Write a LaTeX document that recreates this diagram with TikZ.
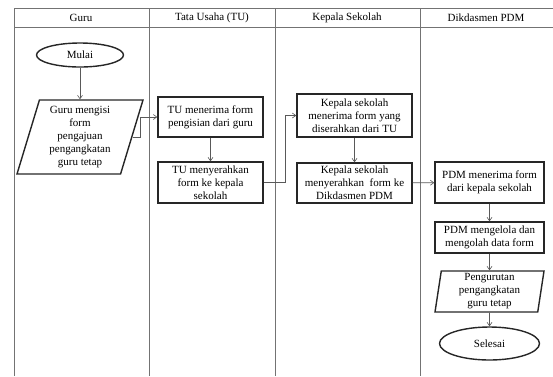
\documentclass[tikz,border=0pt]{standalone}
\usepackage{fontspec}
\setmainfont{Liberation Serif}
\usetikzlibrary{shapes.geometric,arrows.meta}
\begin{document}
\begin{tikzpicture}[x=1pt,y=-1pt,
        font=\fontsize{11}{13}\selectfont,
        lane/.style={draw=black!55, line width=0.8pt},
        proc/.style={draw=black!85, line width=1.4pt, align=center, inner sep=1pt},
        term/.style={ellipse, draw=black!85, line width=1.4pt, inner sep=0pt, align=center},
        data/.style={trapezium, trapezium stretches body, draw=black!85, line width=1.4pt,
            align=center, inner sep=0pt},
        arr/.style={draw=black!65, line width=0.6pt, -{Straight Barb[length=3.5pt,width=5pt]}}]
        \useasboundingbox (0,0) rectangle (553,376);

        % swimlanes
        \draw[lane] (14,8) -- (553,8);
        \draw[lane] (14,27) -- (553,27);
        \foreach \x in {14,149,275,420}
            \draw[lane] (\x,8) -- (\x,376);
        \node (hGuru) at (81,18) {Guru};
        \node (hTU) at (212,18) {Tata Usaha (TU)};
        \node (hKepala) at (347,18) {Kepala Sekolah};
        \node (hPDM) at (486,18) {Dikdasmen PDM};

        % Guru
        \node[term, minimum width=87, minimum height=24] (mulai) at (80,55) {Mulai};
        \node[data, trapezium left angle=70, trapezium right angle=110,
            minimum width=126, minimum height=74] (guru) at (80,137)
            {Guru mengisi\\form\\pengajuan\\pengangkatan\\guru tetap};

        % Tata Usaha
        \node[proc, minimum width=105, minimum height=40] (tu1) at (210.5,117)
            {TU menerima form\\pengisian dari guru};
        \node[proc, minimum width=105, minimum height=41] (tu2) at (210.5,182.5)
            {TU menyerahkan\\form ke kepala\\sekolah};

        % Kepala Sekolah
        \node[proc, minimum width=115, minimum height=43] (kep1) at (354.5,115.5)
            {Kepala sekolah\\menerima form yang\\diserahkan dari TU};
        \node[proc, minimum width=115, minimum height=40] (kep2) at (354.5,183)
            {Kepala sekolah\\menyerahkan\ \ form ke\\Dikdasmen PDM};

        % Dikdasmen PDM
        \node[proc, minimum width=109, minimum height=41] (pdm1) at (489.5,182.5)
            {PDM menerima form\\dari kepala sekolah};
        \node[proc, minimum width=109, minimum height=31] (pdm2) at (489.5,237.5)
            {PDM mengelola dan\\mengolah data form};
        \node[data, trapezium left angle=80, trapezium right angle=100,
            minimum width=109, minimum height=41] (urut) at (489.5,291.5)
            {Pengurutan\\pengangkatan\\guru tetap};
        \node[term, minimum width=100, minimum height=33] (selesai) at (489.5,343.5) {Selesai};

        % connectors
        \draw[arr] (mulai) -- (guru);
        \draw[arr] (guru.east) -- ++(8,0) |- (tu1.west);
        \draw[arr] (tu1) -- (tu2);
        \draw[arr] (tu2.east) -- ++(22,0) |- (kep1.west);
        \draw[arr] (kep1) -- (kep2);
        \draw[arr] (kep2) -- (pdm1);
        \draw[arr] (pdm1) -- (pdm2);
        \draw[arr] (pdm2) -- (urut);
        \draw[arr] (urut) -- (selesai);
    \end{tikzpicture}
\end{document}
